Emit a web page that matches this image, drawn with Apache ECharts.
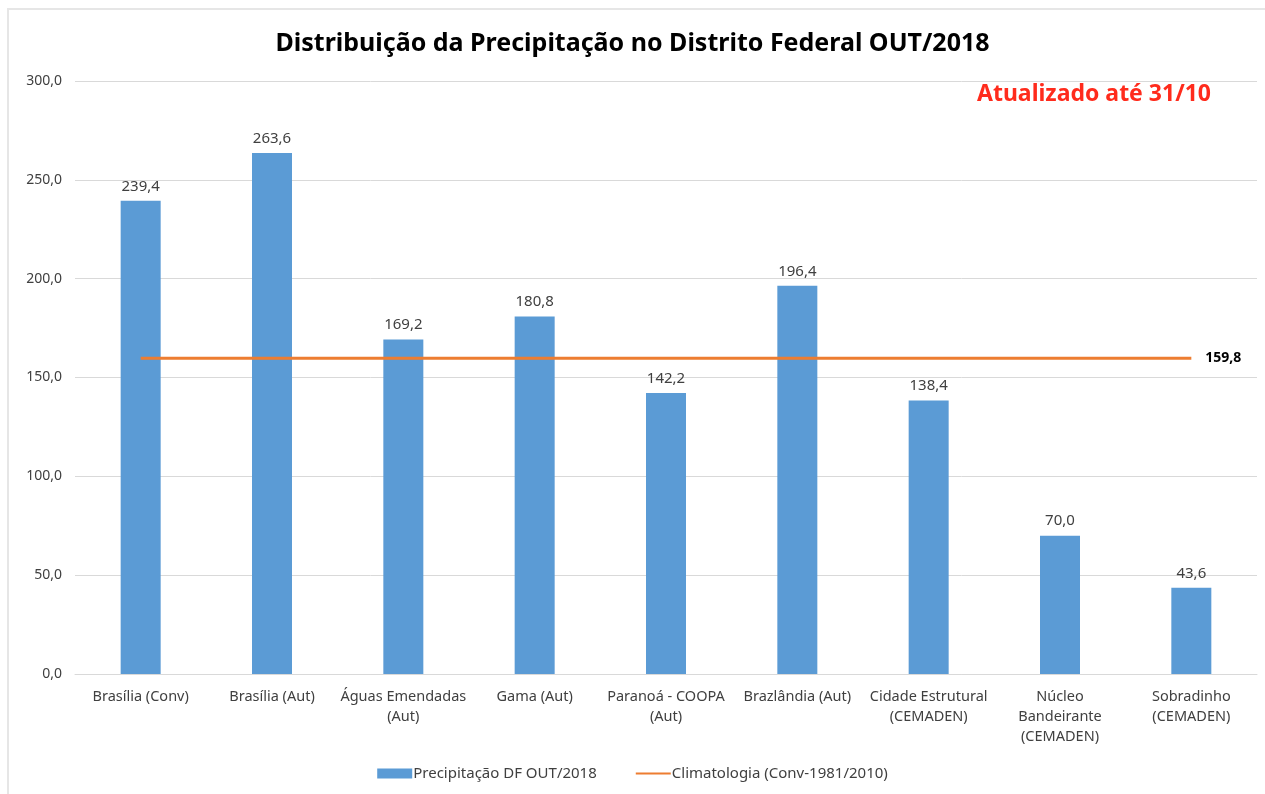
<!DOCTYPE html>
<html>
<head>
<meta charset="utf-8">
<script src="https://cdn.jsdelivr.net/npm/echarts@6/dist/echarts.min.js"></script>
<style>
html,body{margin:0;padding:0;background:#fff;}
#c{width:1265px;height:794px;}
</style>
</head>
<body>
<div id="c"></div>
<script>
var categories = ["Brasília (Conv)", "Brasília (Aut)", "Águas Emendadas\n(Aut)", "Gama (Aut)", "Paranoá - COOPA\n(Aut)", "Brazlândia (Aut)", "Cidade Estrutural\n(CEMADEN)", "Núcleo\nBandeirante\n(CEMADEN)", "Sobradinho\n(CEMADEN)"];
var precipitacao = [239.4, 263.6, 169.2, 180.8, 142.2, 196.4, 138.4, 70.0, 43.6];
var climatologia = [159.8, 159.8, 159.8, 159.8, 159.8, 159.8, 159.8, 159.8, 159.8];
var yTicks = {min: 0, max: 300, interval: 50};

function fmt(v){ return Number(v).toFixed(1).replace('.', ','); }

var chart = echarts.init(document.getElementById('c'));
var FONT = 'Noto Sans';
chart.setOption({
  animation: false,
  backgroundColor: '#fff',
  textStyle: {fontFamily: FONT},
  title: {
    text: 'Distribuição da Precipitação no Distrito Federal OUT/2018',
    left: 'center', top: 26,
    textStyle: {fontFamily: FONT, fontSize: 25, fontWeight: 'bold', color: '#000'}
  },
  graphic: [
    {type: 'rect', shape: {x: 8, y: 8, width: 1257, height: 2}, style: {fill: '#e6e6e6'}, silent: true},
    {type: 'rect', shape: {x: 7, y: 8, width: 2, height: 786}, style: {fill: '#e6e6e6'}, silent: true},
    {type: 'text', left: 977, top: 83, style: {text: 'Atualizado até 31/10', fill: '#ff2b1c', font: 'bold 23px "Noto Sans"'}}
  ],
  grid: {left: 75, right: 8, top: 81, bottom: 120, containLabel: false},
  legend: {
    bottom: 8, left: 'center',
    itemGap: 38, itemWidth: 35, itemHeight: 10,
    textStyle: {fontFamily: FONT, fontSize: 15, color: '#404040', padding: [0,0,0,-4]},
    data: [
      {name: 'Precipitação DF OUT/2018', icon: 'rect'},
      {name: 'Climatologia (Conv-1981/2010)', itemStyle: {opacity: 0}}
    ]
  },
  xAxis: {
    type: 'category',
    data: categories,
    axisLine: {lineStyle: {color: '#d9d9d9', width: 1}},
    axisTick: {show: false},
    axisLabel: {interval: 0, color: '#404040', fontSize: 14.5, lineHeight: 20, margin: 13, fontFamily: FONT}
  },
  yAxis: {
    type: 'value',
    min: yTicks.min, max: yTicks.max, interval: yTicks.interval,
    axisLine: {show: false},
    axisTick: {show: false},
    splitLine: {lineStyle: {color: '#d9d9d9', width: 1}},
    axisLabel: {color: '#404040', fontSize: 14, margin: 13, fontFamily: FONT, formatter: function(v){ return fmt(v); }}
  },
  series: [
    {
      name: 'Precipitação DF OUT/2018',
      type: 'bar',
      data: precipitacao,
      barWidth: 40,
      itemStyle: {color: '#5b9bd5'},
      label: {show: true, position: 'top', distance: 7, color: '#404040', fontSize: 15, fontFamily: FONT, formatter: function(p){ return fmt(p.value); }}
    },
    {
      name: 'Climatologia (Conv-1981/2010)',
      type: 'line',
      data: climatologia,
      symbol: 'none',
      lineStyle: {color: '#ed7d31', width: 3},
      itemStyle: {color: '#ed7d31'},
      endLabel: {show: true, distance: 14, color: '#000', fontWeight: 'bold', fontSize: 14, fontFamily: FONT, formatter: function(p){ return fmt(p.value); }},
      z: 3
    }
  ]
});
</script>
</body>
</html>
